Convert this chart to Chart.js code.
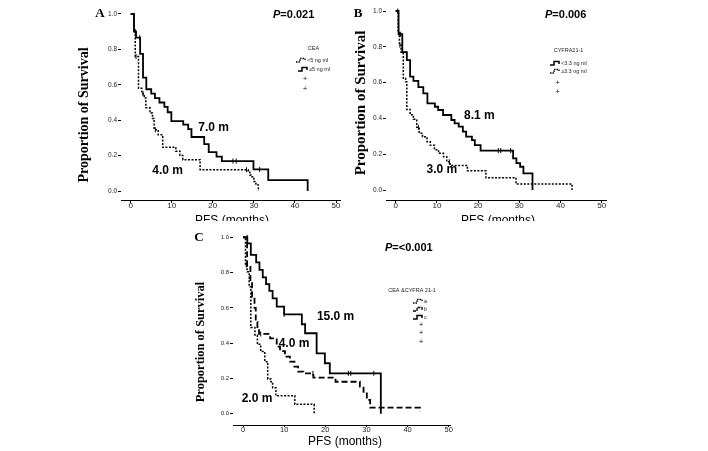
<!DOCTYPE html>
<html><head><meta charset="utf-8">
<script src="https://cdn.jsdelivr.net/npm/chart.js@4/dist/chart.umd.min.js"></script>
<style>
html,body{margin:0;padding:0;background:#fff;width:708px;height:451px;overflow:hidden;}
canvas{position:absolute;}
</style></head><body>
<canvas id="cA" width="310" height="221" style="left:40px;top:0px"></canvas>
<canvas id="cB" width="262" height="221" style="left:350px;top:0px"></canvas>
<canvas id="cC" width="310" height="227" style="left:150px;top:224px"></canvas>
<script>
// ---------------- data ----------------
const xTicks = [0, 10, 20, 30, 40, 50];
const yTicks = [0, 0.2, 0.4, 0.6, 0.8, 1.0];

// Panel A : CEA
const timeA_low  = [0, 0.8, 1.1, 1.9, 2.7, 3.3, 3.7, 4.7, 5.3, 5.7, 6.7, 7.8, 11.0, 12.0, 12.7, 16.9, 28.6, 29.0, 29.5, 30.0, 30.5, 31.1];
const survA_low  = [1.0, 0.90, 0.76, 0.58, 0.55, 0.525, 0.47, 0.44, 0.41, 0.346, 0.318, 0.247, 0.225, 0.20, 0.177, 0.12, 0.115, 0.09, 0.08, 0.053, 0.034, 0.0];
const timeA_high = [0, 0.8, 1.3, 2.3, 3.0, 3.8, 5.0, 5.9, 7.0, 8.2, 9.0, 9.9, 12.8, 14.0, 14.8, 17.9, 19.0, 20.9, 22.2, 29.9, 33.5, 43.1];
const survA_high = [1.0, 0.90, 0.866, 0.775, 0.64, 0.575, 0.55, 0.525, 0.50, 0.475, 0.445, 0.395, 0.375, 0.35, 0.305, 0.265, 0.22, 0.194, 0.169, 0.122, 0.062, 0.0];
const censorA_low  = [1.3, 3.0, 6.0, 28.2];
const censorA_high = [1.2, 2.2, 24.9, 25.7, 31.4];

// Panel B : CYFRA21-1
const timeB_low  = [0, 0.7, 1.6, 2.7, 3.5, 4.3, 5.5, 6.7, 7.7, 9.5, 10.3, 11.5, 13.5, 14.3, 15.3, 16.3, 17.1, 18.5, 19.2, 20.6, 28.5, 29.3, 30.2, 31.0, 33.2];
const survB_low  = [1.0, 0.87, 0.77, 0.726, 0.633, 0.61, 0.575, 0.54, 0.484, 0.465, 0.447, 0.419, 0.391, 0.372, 0.354, 0.326, 0.298, 0.279, 0.251, 0.22, 0.177, 0.15, 0.13, 0.093, 0.0];
const timeB_high = [0, 0.6, 0.9, 1.3, 1.85, 2.4, 2.7, 3.5, 4.3, 5.1, 5.7, 6.5, 7.6, 8.4, 9.4, 10.4, 11.6, 12.4, 13.2, 17.4, 21.9, 29.2, 42.8];
const survB_high = [1.0, 0.88, 0.81, 0.77, 0.624, 0.605, 0.45, 0.42, 0.395, 0.35, 0.317, 0.298, 0.27, 0.25, 0.225, 0.205, 0.186, 0.158, 0.137, 0.107, 0.069, 0.034, 0.0];
const censorB_low  = [0.5, 1.2, 24.9, 25.5, 27.9];
const censorB_high = [1.0, 5.5, 13.0];

// Panel C : CEA & CYFRA 21-1 (a, b, c)
const timeC_a = [0, 0.6, 1.0, 1.5, 1.9, 2.9, 3.5, 4.3, 5.3, 6.0, 6.8, 7.2, 8.0, 12.6, 17.3];
const survC_a = [1.0, 0.843, 0.805, 0.72, 0.488, 0.446, 0.393, 0.352, 0.295, 0.197, 0.181, 0.147, 0.102, 0.053, 0.0];
const timeC_b = [0, 1.0, 1.8, 2.2, 2.8, 3.1, 3.5, 3.9, 6.6, 8.2, 9.0, 10.2, 11.4, 12.5, 13.4, 14.7, 17.1, 22.5, 28.4, 29.3, 30.1, 30.9, 43.0];
const survC_b = [1.0, 0.84, 0.74, 0.663, 0.60, 0.52, 0.48, 0.452, 0.427, 0.38, 0.355, 0.323, 0.295, 0.267, 0.238, 0.229, 0.204, 0.181, 0.153, 0.115, 0.078, 0.034, 0.011];
const timeC_c = [0, 1.05, 1.9, 3.2, 4.0, 4.8, 5.6, 6.4, 7.2, 8.2, 10.0, 14.3, 15.1, 17.9, 19.9, 21.1, 33.5];
const survC_c = [1.0, 0.966, 0.90, 0.858, 0.815, 0.773, 0.735, 0.696, 0.654, 0.607, 0.563, 0.507, 0.456, 0.342, 0.286, 0.229, 0.0];
const censorC_a = [0.8];
const censorC_b = [4.3, 17.0];
const censorC_c = [1.0, 10.0, 25.6, 26.2, 31.8];

// median labels [text, months, survival]
const mediansA = [["7.0 m", 20.2, 0.356], ["4.0 m", 9.0, 0.113]];
const mediansB = [["8.1 m", 20.3, 0.413], ["3.0 m", 11.2, 0.115]];
const mediansC = [["15.0 m", 22.5, 0.548], ["4.0 m", 12.4, 0.395], ["2.0 m", 3.4, 0.083]];

// ---------------- helpers ----------------
const SANS = '"Liberation Sans", Arial, sans-serif';
const SERIF = '"Liberation Serif", "Times New Roman", serif';
const STY = {
  solid:  {borderDash: [], borderWidth: 1.8},
  dotted: {borderDash: [2, 1.5], borderWidth: 1.5},
  dashed: {borderDash: [6, 3], borderWidth: 1.8}
};
function pts(t, s) { return t.map((v, i) => ({x: v, y: s[i]})); }
function stepAt(t, s, time) { let v = s[0]; for (let i = 0; i < t.length; i++) { if (t[i] <= time) v = s[i]; } return v; }
function curve(t, s, style) {
  return Object.assign({type: 'line', data: pts(t, s), stepped: 'before', pointRadius: 0,
    borderColor: '#000', fill: false, tension: 0}, STY[style]);
}
function censor(t, s, times) {
  return {type: 'scatter', data: times.map(v => ({x: v, y: stepAt(t, s, v)})),
    pointStyle: 'line', rotation: 90, pointRadius: 2.5, borderWidth: 1, borderColor: '#000', backgroundColor: '#000'};
}
function stepSample(ctx, x, y, style) {
  ctx.save();
  ctx.strokeStyle = '#000';
  ctx.lineWidth = style === 'solid' ? 1.5 : 1.3;
  ctx.setLineDash(style === 'dotted' ? [1.5, 1] : (style === 'dashed' ? [3, 1] : []));
  ctx.beginPath();
  ctx.moveTo(x, y + 2); ctx.lineTo(x + 4, y + 2); ctx.lineTo(x + 4, y - 1.5);
  ctx.lineTo(x + 9, y - 1.5); ctx.lineTo(x + 9, y + 1);
  ctx.stroke();
  ctx.restore();
}

const textPlugin = {
  id: 'texts',
  afterDraw(chart, args, o) {
    const ctx = chart.ctx, xs = chart.scales.x, ys = chart.scales.y;
    ctx.save();
    ctx.fillStyle = '#000';
    ctx.font = 'bold 13px ' + SERIF; ctx.textAlign = 'center'; ctx.textBaseline = 'middle';
    ctx.fillText(o.letter, o.letterPos[0], o.letterPos[1]);
    ctx.textAlign = 'left';
    ctx.font = 'italic bold 11px ' + SANS;
    ctx.fillText('P', o.pPos[0], o.pPos[1]);
    const w = ctx.measureText('P').width;
    ctx.font = 'bold 11px ' + SANS;
    ctx.fillText(o.pText, o.pPos[0] + w, o.pPos[1]);
    ctx.textAlign = 'center';
    ctx.font = 'bold 12px ' + SANS;
    o.medians.forEach(m => ctx.fillText(m[0], xs.getPixelForValue(m[1]), ys.getPixelForValue(m[2])));
    ctx.font = '12px ' + SANS;
    ctx.fillText('PFS (months)', o.xTitle[0], o.xTitle[1]);
    ctx.save();
    ctx.translate(o.yTitle[0], o.yTitle[1]); ctx.rotate(-Math.PI / 2);
    ctx.font = 'bold ' + o.yTitle[2] + 'px ' + SERIF;
    ctx.fillText('Proportion of Survival', 0, 0);
    ctx.restore();
    const L = o.legend;
    ctx.font = '5.5px ' + SANS; ctx.fillStyle = '#222';
    ctx.textAlign = 'center';
    ctx.fillText(L.title, L.titlePos[0], L.titlePos[1]);
    ctx.textAlign = 'left';
    L.items.forEach(it => {
      stepSample(ctx, it.x, it.y, it.style);
      ctx.fillText(it.label, it.x + 11, it.y);
    });
    ctx.font = '8px ' + SANS; ctx.textAlign = 'center';
    L.plus.forEach(p => ctx.fillText('+', p[0], p[1]));
    ctx.restore();
  }
};

function makePanel(id, datasets, area, map, tk, texts) {
  const cv = document.getElementById(id);
  const W = cv.width, H = cv.height;
  const xmin = (area.l - map.x0) / map.kx, xmax = (area.r - map.x0) / map.kx;
  const ymin = (map.y0 - area.b) / map.ky, ymax = (map.y0 - area.t) / map.ky;
  return new Chart(cv, {
    type: 'line',
    data: {datasets: datasets},
    plugins: [textPlugin],
    options: {
      responsive: false, animation: false, devicePixelRatio: 1,
      layout: {padding: {left: 0, top: area.t, right: W - area.r, bottom: 0}},
      plugins: {legend: {display: false}, tooltip: {enabled: false}, texts: texts},
      scales: {
        x: {type: 'linear', min: xmin, max: xmax,
          afterFit(s) { s.height = H - area.b; },
          afterBuildTicks(s) { s.ticks = xTicks.map(v => ({value: v})); },
          grid: {drawOnChartArea: false, drawTicks: true, tickLength: tk.xLen, color: '#000', lineWidth: 1},
          border: {display: true, color: '#000', width: 1},
          ticks: {font: {family: SANS, size: tk.xSize, lineHeight: 1}, color: '#222', padding: tk.xPad, maxRotation: 0, autoSkip: false}},
        y: {type: 'linear', min: ymin, max: ymax,
          afterFit(s) { s.width = area.l; },
          afterBuildTicks(s) { s.ticks = yTicks.map(v => ({value: v})); },
          grid: {drawOnChartArea: false, drawTicks: true, tickLength: 3, color: '#000', lineWidth: 1},
          border: {display: false},
          ticks: {font: {family: SANS, size: tk.ySize}, color: '#222', padding: 1, callback: v => v.toFixed(1)}}
      }
    }
  });
}

// Panel A
makePanel('cA', [
  curve(timeA_low, survA_low, 'dotted'),
  curve(timeA_high, survA_high, 'solid'),
  censor(timeA_low, survA_low, censorA_low),
  censor(timeA_high, survA_high, censorA_high)
], {l: 81, t: 8, r: 300, b: 200}, {x0: 90.7, kx: 4.106, y0: 191, ky: 177},
  {xLen: 3, xPad: -1, xSize: 8, ySize: 6.5}, {
  letter: 'A', letterPos: [60, 14], pText: '=0.021', pPos: [233, 15], medians: mediansA,
  xTitle: [192, 221], yTitle: [44, 115, 14],
  legend: {title: 'CEA', titlePos: [273.5, 48], items: [
    {x: 256, y: 60, style: 'dotted', label: '<5 ng ml'},
    {x: 258, y: 69, style: 'solid', label: '\u22655 ng ml'}],
    plus: [[265, 79], [265, 89]]}
});

// Panel B
makePanel('cB', [
  curve(timeB_low, survB_low, 'solid'),
  curve(timeB_high, survB_high, 'dotted'),
  censor(timeB_low, survB_low, censorB_low),
  censor(timeB_high, survB_high, censorB_high)
], {l: 36, t: 5, r: 256, b: 200}, {x0: 45.7, kx: 4.12, y0: 190, ky: 179},
  {xLen: 3, xPad: -1, xSize: 8, ySize: 6.5}, {
  letter: 'B', letterPos: [8, 14], pText: '=0.006', pPos: [195, 15], medians: mediansB,
  xTitle: [148, 221], yTitle: [11, 103, 15],
  legend: {title: 'CYFRA21-1', titlePos: [218.5, 50], items: [
    {x: 200, y: 63, style: 'solid', label: '<3.3 ng ml'},
    {x: 200, y: 71, style: 'dotted', label: '\u22653.3 ng ml'}],
    plus: [[207.7, 83], [207.7, 92]]}
});

// Panel C
makePanel('cC', [
  curve(timeC_a, survC_a, 'dotted'),
  curve(timeC_b, survC_b, 'dashed'),
  curve(timeC_c, survC_c, 'solid'),
  censor(timeC_a, survC_a, censorC_a),
  censor(timeC_b, survC_b, censorC_b),
  censor(timeC_c, survC_c, censorC_c)
], {l: 83, t: 8, r: 300, b: 201}, {x0: 93, kx: 4.114, y0: 189.7, ky: 176.4},
  {xLen: 2, xPad: -1, xSize: 7.5, ySize: 6}, {
  letter: 'C', letterPos: [49, 14], pText: '=<0.001', pPos: [235, 24], medians: mediansC,
  xTitle: [195, 218], yTitle: [51, 118, 12.5],
  legend: {title: 'CEA &CYFRA 21-1', titlePos: [262, 66], items: [
    {x: 263, y: 77, style: 'dotted', label: 'a'},
    {x: 263, y: 85, style: 'dashed', label: 'b'},
    {x: 263, y: 93, style: 'solid', label: 'c'}],
    plus: [[271, 101], [271, 109], [271, 117.5]]}
});
</script>
</body></html>
